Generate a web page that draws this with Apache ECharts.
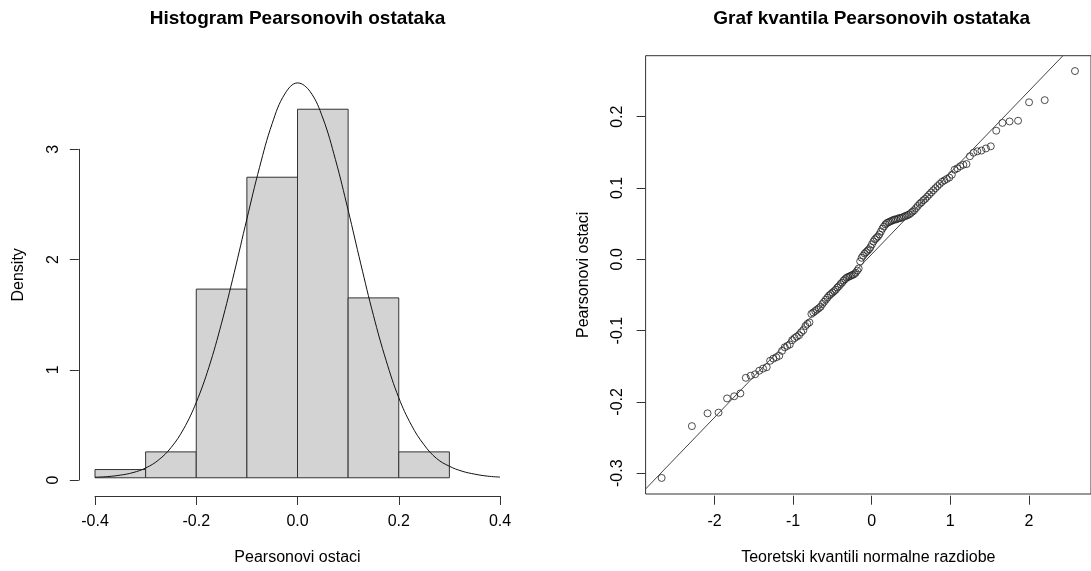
<!DOCTYPE html>
<html>
<head>
<meta charset="utf-8">
<script src="https://cdn.jsdelivr.net/npm/echarts@6/dist/echarts.min.js"></script>
<style>
  html, body { margin: 0; padding: 0; background: #fff; }
  #chart { width: 1091px; height: 571px; }
</style>
</head>
<body>
<div id="chart"></div>
<script>
// histogram of Pearson residuals (density scale)
var binStart = [-0.4, -0.3, -0.2, -0.1, 0.0, 0.1, 0.2];
var binEnd = [-0.3, -0.2, -0.1, 0.0, 0.1, 0.2, 0.3];
var binDensity = [0.075, 0.236, 1.72, 2.74, 3.36, 1.64, 0.236];

// density curve
var curveX = [-0.4, -0.375, -0.35, -0.325, -0.3, -0.275, -0.25, -0.225, -0.2, -0.175, -0.15,
  -0.125, -0.1, -0.075, -0.05, -0.025, 0, 0.025, 0.05, 0.075, 0.1, 0.125, 0.15,
  0.175, 0.2, 0.225, 0.25, 0.275, 0.3, 0.325, 0.35, 0.375, 0.4];
var curveY = [0.005, 0.011, 0.024, 0.047, 0.089, 0.16, 0.274, 0.445, 0.687, 1.008, 1.41,
  1.87, 2.36, 2.83, 3.23, 3.50, 3.60, 3.52, 3.28, 2.90, 2.44, 1.95, 1.48,
  1.07, 0.73, 0.48, 0.30, 0.175, 0.105, 0.06, 0.033, 0.015, 0.006];

// QQ plot: theoretical quantiles and sorted residuals
var qqX = [-2.669, -2.278, -2.076, -1.934, -1.824, -1.732, -1.652, -1.582, -1.519, -1.461,
  -1.408, -1.359, -1.312, -1.268, -1.227, -1.188, -1.150, -1.114, -1.079, -1.046,
  -1.014, -0.983, -0.952, -0.923, -0.894, -0.866, -0.839, -0.812, -0.786, -0.760,
  -0.735, -0.711, -0.686, -0.663, -0.639, -0.616, -0.593, -0.571, -0.549, -0.527,
  -0.505, -0.483, -0.462, -0.441, -0.420, -0.400, -0.380, -0.359, -0.339, -0.319,
  -0.299, -0.279, -0.260, -0.240, -0.221, -0.201, -0.182, -0.163, -0.143, -0.124,
  -0.105, -0.086, -0.067, -0.047, -0.028, -0.009, 0.009, 0.028, 0.047, 0.067,
  0.086, 0.105, 0.124, 0.143, 0.163, 0.182, 0.201, 0.221, 0.240, 0.260,
  0.279, 0.299, 0.319, 0.339, 0.359, 0.380, 0.400, 0.420, 0.441, 0.462,
  0.483, 0.505, 0.527, 0.549, 0.571, 0.593, 0.616, 0.639, 0.663, 0.686,
  0.711, 0.735, 0.760, 0.786, 0.812, 0.839, 0.866, 0.894, 0.923, 0.952,
  0.983, 1.014, 1.046, 1.079, 1.114, 1.150, 1.188, 1.227, 1.268, 1.312,
  1.359, 1.408, 1.461, 1.519, 1.582, 1.652, 1.732, 1.824, 1.934, 2.076,
  2.278, 2.669];
var qqY = [-0.309, -0.236, -0.218, -0.217, -0.197, -0.194, -0.190, -0.168, -0.165, -0.163,
  -0.158, -0.155, -0.153, -0.144, -0.141, -0.139, -0.137, -0.130, -0.125, -0.123,
  -0.121, -0.115, -0.112, -0.110, -0.108, -0.104, -0.101, -0.095, -0.092, -0.090,
  -0.078, -0.076, -0.074, -0.072, -0.070, -0.068, -0.064, -0.061, -0.058, -0.055,
  -0.052, -0.050, -0.048, -0.046, -0.044, -0.041, -0.039, -0.036, -0.034, -0.031,
  -0.029, -0.027, -0.026, -0.025, -0.024, -0.023, -0.022, -0.020, -0.017, -0.014,
  -0.004, 0.001, 0.004, 0.007, 0.009, 0.011, 0.013, 0.016, 0.020, 0.024,
  0.027, 0.029, 0.031, 0.034, 0.038, 0.042, 0.045, 0.048, 0.050, 0.051,
  0.052, 0.053, 0.054, 0.055, 0.055, 0.056, 0.057, 0.057, 0.058, 0.059,
  0.060, 0.061, 0.062, 0.064, 0.066, 0.068, 0.071, 0.074, 0.077, 0.079,
  0.082, 0.084, 0.087, 0.090, 0.093, 0.096, 0.099, 0.102, 0.105, 0.108,
  0.110, 0.112, 0.114, 0.118, 0.125, 0.127, 0.130, 0.132, 0.133, 0.144,
  0.149, 0.151, 0.152, 0.155, 0.158, 0.180, 0.191, 0.193, 0.194, 0.220,
  0.223, 0.264];

// reference line (qqline) end points
var qqLineX = [-2.876, 2.514];
var qqLineY = [-0.3245, 0.2856];

var font = "'Liberation Sans', Arial, sans-serif";
var axisColor = '#333';

// axis that only carries the name (spans the whole plot region)
function nameAxis(gridIndex, min, max, name, gap) {
  return {
    gridIndex: gridIndex, type: 'value', min: min, max: max,
    axisLine: {show: false, onZero: false}, axisTick: {show: false},
    axisLabel: {show: false}, splitLine: {show: false},
    name: name, nameLocation: 'middle', nameGap: gap,
    nameTextStyle: {fontSize: 16, color: '#000', fontFamily: font}
  };
}

// axis with ticks and labels (spans first..last tick like R)
function tickAxis(gridIndex, min, max, interval, offset, digits, rotate, margin, showLine) {
  return {
    gridIndex: gridIndex, type: 'value', min: min, max: max, interval: interval,
    offset: offset,
    axisLine: {show: showLine, onZero: false, lineStyle: {color: axisColor, width: 1}},
    axisTick: {show: true, length: 9, lineStyle: {color: axisColor, width: 1}},
    axisLabel: {
      fontSize: 16, color: '#000', fontFamily: font, rotate: rotate, margin: margin,
      formatter: function (v) { return Number(v).toFixed(digits); }
    },
    splitLine: {show: false}
  };
}

var chart = echarts.init(document.getElementById('chart'));

var bins = binStart.map(function (s, i) { return [s, binEnd[i], binDensity[i]]; });
var curve = curveX.map(function (x, i) { return [x, curveY[i]]; });
var qq = qqX.map(function (x, i) { return [x, qqY[i]]; });
var qqLine = qqLineX.map(function (x, i) { return [x, qqLineY[i]]; });

chart.setOption({
  animation: false,
  backgroundColor: '#fff',
  title: [
    {
      text: 'Histogram Pearsonovih ostataka', left: 297.5, top: 9, textAlign: 'center', padding: 0,
      textStyle: {fontSize: 19, fontWeight: 'bold', color: '#000', fontFamily: font}
    },
    {
      text: 'Graf kvantila Pearsonovih ostataka', left: 871.7, top: 9, textAlign: 'center', padding: 0,
      textStyle: {fontSize: 19, fontWeight: 'bold', color: '#000', fontFamily: font}
    }
  ],
  grid: [
    {left: 78.8, top: 55.7, width: 437.4, height: 440.5},
    {left: 95, top: 149.3, width: 405, height: 330.7},
    {left: 645.6, top: 55.7, width: 452.2, height: 440, show: true,
      borderColor: axisColor, borderWidth: 1, backgroundColor: 'transparent'},
    {left: 714.5, top: 116.7, width: 314.4, height: 356.5}
  ],
  xAxis: [
    nameAxis(0, -0.432, 0.432, 'Pearsonovi ostaci', 56),
    tickAxis(1, -0.4, 0.4, 0.2, 16, 1, 0, 18, true),
    nameAxis(2, -2.876, 2.876, 'Teoretski kvantili normalne razdiobe', 56),
    tickAxis(3, -2, 2, 1, 22.5, 0, 0, 18, false)
  ],
  yAxis: [
    nameAxis(0, -0.148, 3.848, 'Density', 52),
    tickAxis(1, 0, 3, 1, 16.2, 0, 90, 17, true),
    nameAxis(2, -0.3316, 0.2856, 'Pearsonovi ostaci', 54),
    tickAxis(3, -0.3, 0.2, 0.1, 68.9, 1, 90, 20, false)
  ],
  series: [
    {
      type: 'custom', xAxisIndex: 0, yAxisIndex: 0, data: bins, silent: true,
      encode: {x: [0, 1], y: 2},
      renderItem: function (params, api) {
        var top = api.coord([api.value(0), api.value(2)]);
        var base = api.coord([api.value(1), 0]);
        return {
          type: 'rect',
          shape: {x: top[0], y: top[1], width: base[0] - top[0], height: base[1] - top[1]},
          style: {fill: '#d3d3d3', stroke: '#333', lineWidth: 1}
        };
      }
    },
    {
      type: 'line', xAxisIndex: 0, yAxisIndex: 0, data: curve, smooth: 0.4,
      symbol: 'none', silent: true, lineStyle: {color: '#111', width: 1}
    },
    {
      type: 'line', xAxisIndex: 2, yAxisIndex: 2, data: qqLine,
      symbol: 'none', silent: true, lineStyle: {color: '#444', width: 1}
    },
    {
      type: 'scatter', xAxisIndex: 2, yAxisIndex: 2, data: qq, silent: true,
      symbol: 'circle', symbolSize: 7,
      itemStyle: {color: 'rgba(0,0,0,0)', borderColor: '#222', borderWidth: 1}
    }
  ]
});
</script>
</body>
</html>
